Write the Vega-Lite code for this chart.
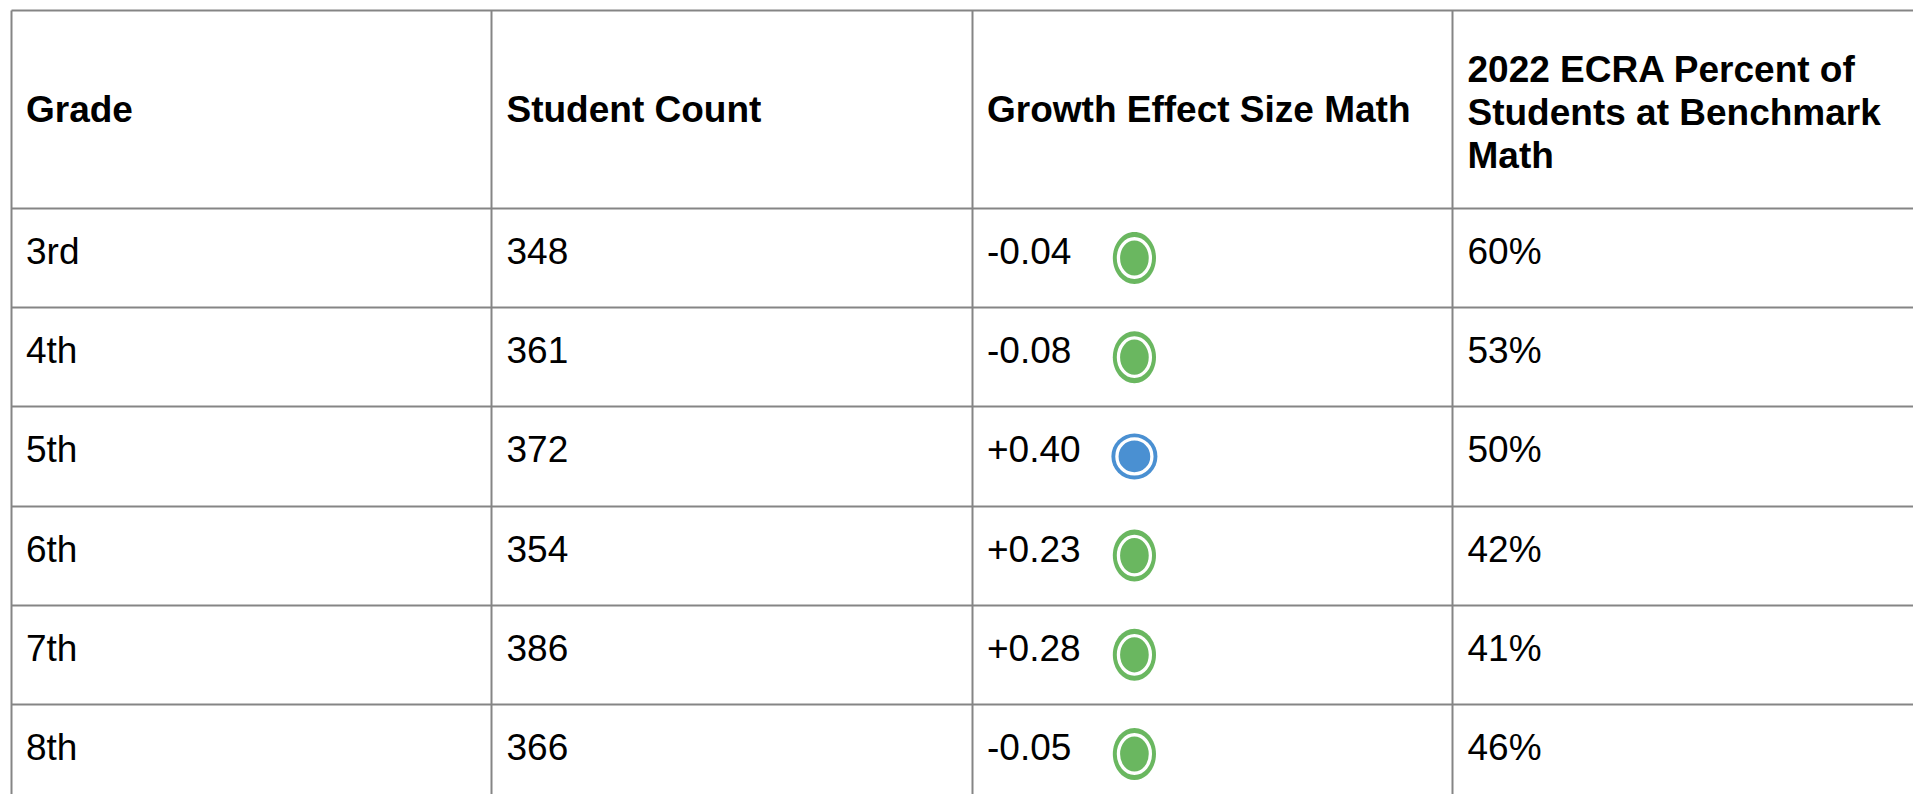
{
  "$schema": "https://vega.github.io/schema/vega-lite/v6.json",
  "width": 1902,
  "height": 784,
  "autosize": {"type": "none"},
  "padding": {"left": 11, "top": 10, "right": 0, "bottom": 0},
  "background": "white",
  "config": {"view": {"stroke": null}},
  "datasets": {
    "rows": [
      {"Grade": "3rd", "Student Count": "348", "Growth Effect Size Math": "-0.04", "2022 ECRA Percent of Students at Benchmark Math": "60%", "Status": "green"},
      {"Grade": "4th", "Student Count": "361", "Growth Effect Size Math": "-0.08", "2022 ECRA Percent of Students at Benchmark Math": "53%", "Status": "green"},
      {"Grade": "5th", "Student Count": "372", "Growth Effect Size Math": "+0.40", "2022 ECRA Percent of Students at Benchmark Math": "50%", "Status": "blue"},
      {"Grade": "6th", "Student Count": "354", "Growth Effect Size Math": "+0.23", "2022 ECRA Percent of Students at Benchmark Math": "42%", "Status": "green"},
      {"Grade": "7th", "Student Count": "386", "Growth Effect Size Math": "+0.28", "2022 ECRA Percent of Students at Benchmark Math": "41%", "Status": "green"},
      {"Grade": "8th", "Student Count": "366", "Growth Effect Size Math": "-0.05", "2022 ECRA Percent of Students at Benchmark Math": "46%", "Status": "green"}
    ],
    "headers": [
      {"Column": "Grade", "Header": "Grade"},
      {"Column": "Student Count", "Header": "Student Count"},
      {"Column": "Growth Effect Size Math", "Header": "Growth Effect Size Math"},
      {"Column": "2022 ECRA Percent of Students at Benchmark Math", "Header": "2022 ECRA Percent of\nStudents at Benchmark\nMath"}
    ]
  },
  "resolve": {"scale": {"size": "independent"}},
  "layer": [
    {
      "data": {"name": "rows"},
      "transform": [
        {"fold": ["Grade", "Student Count", "Growth Effect Size Math", "2022 ECRA Percent of Students at Benchmark Math"], "as": ["Column", "Value"]}
      ],
      "mark": {"type": "text", "align": "left", "baseline": "middle", "dx": 15, "dy": -5, "font": "Liberation Sans", "fontSize": 37, "color": "#000000"},
      "encoding": {
        "x": {
          "field": "Column", "type": "nominal", "bandPosition": 0,
          "scale": {"type": "band", "domain": ["Grade", "Student Count", "Growth Effect Size Math", "2022 ECRA Percent of Students at Benchmark Math"], "range": [0, 1922], "paddingInner": 0, "paddingOuter": 0},
          "axis": {"orient": "top", "grid": true, "bandPosition": 0, "labels": false, "ticks": false, "domain": false, "title": null, "gridColor": "#858585", "gridWidth": 2, "gridOpacity": 1}
        },
        "y": {
          "field": "Grade", "type": "nominal", "bandPosition": 0.5,
          "scale": {"type": "band", "domain": ["h1", "h2", "3rd", "4th", "5th", "6th", "7th", "8th"], "range": [0, 793.6], "paddingInner": 0, "paddingOuter": 0},
          "axis": {"values": ["h1", "3rd", "4th", "5th", "6th", "7th", "8th"], "grid": true, "bandPosition": 0, "labels": false, "ticks": false, "domain": false, "title": null, "gridColor": "#858585", "gridWidth": 2, "gridOpacity": 1}
        },
        "text": {"field": "Value", "type": "nominal"}
      }
    },
    {
      "data": {"name": "headers"},
      "transform": [
        {"calculate": "length(split(datum.Header, '\\n'))", "as": "Lines"}
      ],
      "mark": {"type": "text", "align": "left", "baseline": "middle", "dx": 15, "font": "Liberation Sans", "fontSize": 37, "fontWeight": "bold", "lineHeight": 43, "lineBreak": "\n", "color": "#000000"},
      "encoding": {
        "x": {"field": "Column", "type": "nominal", "bandPosition": 0},
        "y": {"datum": "h2", "type": "nominal"},
        "yOffset": {"field": "Lines", "type": "quantitative", "scale": {"domain": [1, 3], "range": [2, -38], "zero": false}},
        "text": {"field": "Header", "type": "nominal"}
      }
    },
    {
      "data": {"name": "rows"},
      "mark": {"type": "point", "filled": true, "opacity": 1},
      "encoding": {
        "x": {"datum": "Growth Effect Size Math", "type": "nominal", "bandPosition": 0.338},
        "y": {"field": "Grade", "type": "nominal", "bandPosition": 0.5},
        "shape": {"field": "Status", "type": "nominal", "scale": {"domain": ["green", "blue"], "range": ["M0,-1A0.83,1,0,1,1,0,1A0.83,1,0,1,1,0,-1Z", "circle"]}, "legend": null},
        "size": {"field": "Status", "type": "ordinal", "scale": {"domain": ["green", "blue"], "range": [2704, 2116]}, "legend": null},
        "color": {"field": "Status", "type": "nominal", "scale": {"domain": ["green", "blue"], "range": ["#6ab760", "#4a90d2"]}, "legend": null}
      }
    },
    {
      "data": {"name": "rows"},
      "mark": {"type": "point", "filled": true, "opacity": 1, "stroke": "white", "strokeWidth": 3.3, "strokeOpacity": 1},
      "encoding": {
        "x": {"datum": "Growth Effect Size Math", "type": "nominal", "bandPosition": 0.338},
        "y": {"field": "Grade", "type": "nominal", "bandPosition": 0.5},
        "shape": {"field": "Status", "type": "nominal", "scale": {"domain": ["green", "blue"], "range": ["M0,-1A0.83,1,0,1,1,0,1A0.83,1,0,1,1,0,-1Z", "circle"]}, "legend": null},
        "size": {"field": "Status", "type": "ordinal", "scale": {"domain": ["green", "blue"], "range": [1482, 1225]}, "legend": null},
        "color": {"field": "Status", "type": "nominal", "scale": {"domain": ["green", "blue"], "range": ["#6ab760", "#4a90d2"]}, "legend": null}
      }
    }
  ]
}
